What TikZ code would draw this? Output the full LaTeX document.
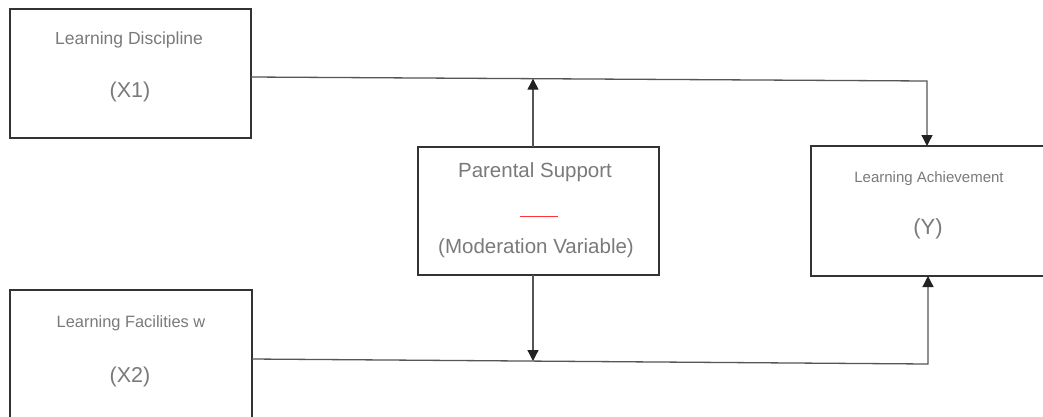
\documentclass[tikz,border=0pt]{standalone}
\usepackage{fontspec}
\setmainfont{Liberation Sans}
\usetikzlibrary{arrows.meta}
\definecolor{boxc}{HTML}{333333}
\definecolor{linec}{HTML}{555555}
\definecolor{tipc}{HTML}{222222}
\definecolor{txtc}{HTML}{7a7a7a}
\tikzset{
  box/.style={draw=boxc, line width=2pt, rectangle, inner sep=0pt, outer sep=0pt},
  lbl/.style={text=txtc, inner sep=0pt, anchor=center},
  conn/.style={draw=linec, line width=1.3pt},
  arr/.style={conn, -{Triangle[length=11pt,width=11pt,color=tipc]}}
}
\begin{document}
\begin{tikzpicture}[x=1pt,y=-1pt]
\useasboundingbox (0,0) rectangle (1043,416);
\clip (0,0) rectangle (1043,416);
\fill[white] (0,0) rectangle (1043,416);
% boxes
\node[box, minimum width=241pt, minimum height=129pt] (X1) at (130.5,73.5) {};
\node[box, minimum width=242pt, minimum height=135pt] (X2) at (131,357.5) {};
\node[box, minimum width=241pt, minimum height=128pt] (M) at (538.5,211) {};
\node[box, minimum width=240pt, minimum height=130pt] (Y) at (931,211) {};
% texts
\node[lbl, font=\fontsize{17.5}{19}\selectfont] (t1) at (129,40) {Learning Discipline};
\node[lbl, font=\fontsize{21.5}{23}\selectfont] (t1b) at (130,92) {(X1)};
\node[lbl, font=\fontsize{16.4}{18}\selectfont] (t2) at (131,323) {Learning Facilities w};
\node[lbl, font=\fontsize{21.5}{23}\selectfont] (t2b) at (130,377) {(X2)};
\node[lbl, font=\fontsize{20.5}{22}\selectfont] (tm) at (535,172) {Parental Support};
\node[lbl, font=\fontsize{20.5}{22}\selectfont] (tmb) at (536,248) {(Moderation Variable)};
\node[lbl, font=\fontsize{15}{17}\selectfont] (ty) at (929,179) {Learning Achievement};
\node[lbl, font=\fontsize{22}{24}\selectfont] (tyb) at (928,229) {(Y)};
% red mark
\coordinate (r1) at (520,216);
\coordinate (r2) at (558,216);
\draw[red!80!white, line width=0.8pt] (r1) -- (r2);
% connector corners
\coordinate (c1) at (927,81);
\coordinate (c2) at (928,364);
\coordinate (m1) at (533,78.7);
\coordinate (m2) at (533,361);
% connectors
\draw[arr] ([yshift=-3.5pt]X1.east) -- (c1) -- (c1 |- Y.north);
\draw[arr] ([yshift=-1.5pt]X2.east) -- (c2) -- (c2 |- Y.south);
\draw[arr] ([xshift=-5.5pt]M.north) -- (m1);
\draw[arr] ([xshift=-5.5pt]M.south) -- (m2);
\end{tikzpicture}
\end{document}
